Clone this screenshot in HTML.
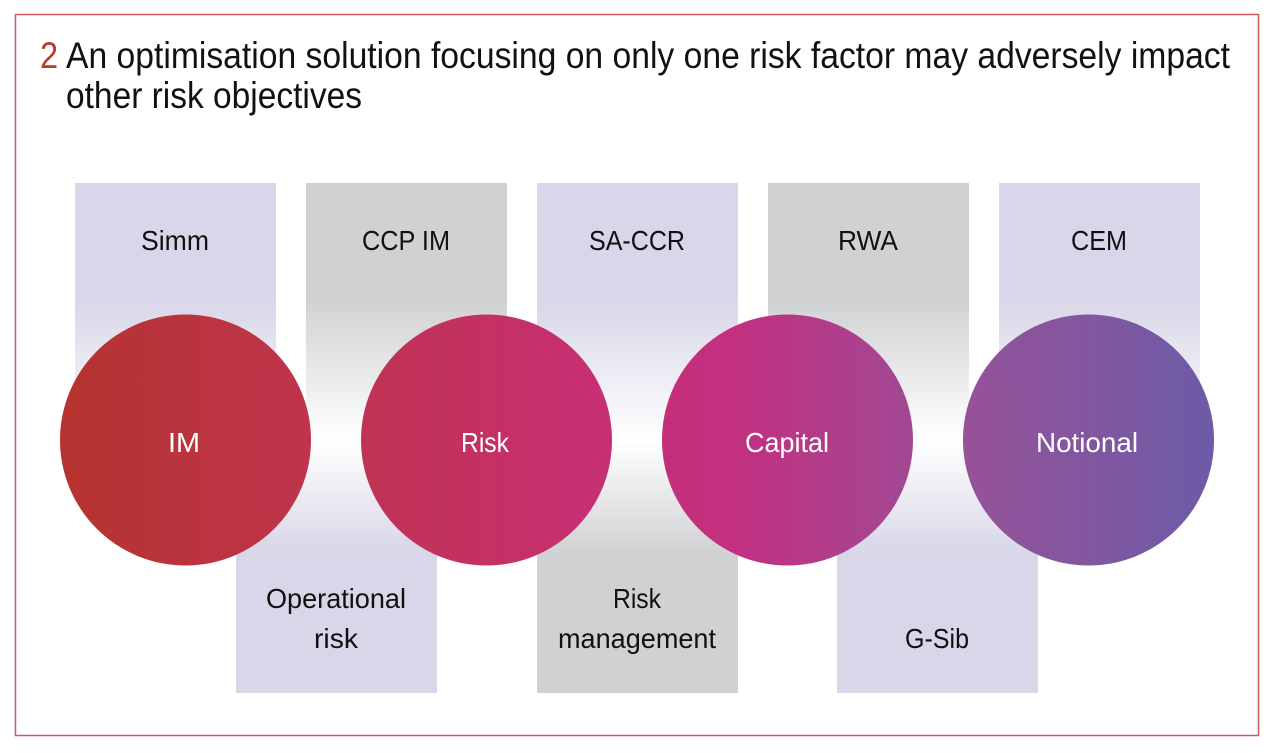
<!DOCTYPE html>
<html><head><meta charset="utf-8"><style>html,body{margin:0;padding:0;background:#fff}svg{display:block}</style></head>
<body>
<svg width="1282" height="753" viewBox="0 0 1282 753" xmlns="http://www.w3.org/2000/svg" font-family="'Liberation Sans', sans-serif">
<defs>
<linearGradient id="tl" x1="0" y1="0" x2="0" y2="1"><stop offset="0" stop-color="#d8d6e8"/><stop offset="0.45" stop-color="#d8d6e8"/><stop offset="1" stop-color="#fff"/></linearGradient>
<linearGradient id="tg" x1="0" y1="0" x2="0" y2="1"><stop offset="0" stop-color="#d0d1d3"/><stop offset="0.45" stop-color="#d0d1d3"/><stop offset="1" stop-color="#fff"/></linearGradient>
<linearGradient id="bl" x1="0" y1="0" x2="0" y2="1"><stop offset="0" stop-color="#fff"/><stop offset="0.45" stop-color="#d8d6e8"/><stop offset="1" stop-color="#d8d6e8"/></linearGradient>
<linearGradient id="bg" x1="0" y1="0" x2="0" y2="1"><stop offset="0" stop-color="#fff"/><stop offset="0.45" stop-color="#d0d1d3"/><stop offset="1" stop-color="#d0d1d3"/></linearGradient>
<linearGradient id="c" gradientUnits="userSpaceOnUse" x1="60" y1="0" x2="1214" y2="0">
<stop offset="0" stop-color="#b5332f"/><stop offset="0.22" stop-color="#bf344d"/><stop offset="0.45" stop-color="#c62f70"/><stop offset="0.58" stop-color="#c42f80"/><stop offset="0.8" stop-color="#93539a"/><stop offset="1" stop-color="#6c5ba6"/></linearGradient>
</defs>
<rect x="15.5" y="14.5" width="1243" height="721" fill="none" stroke="#d05a5a" stroke-width="1.5"/>
<text x="40" y="68" font-size="37" fill="#c0392b" transform="translate(40 0) scale(0.88 1) translate(-40 0)">2</text>
<text x="66" y="68" font-size="37" fill="#111" textLength="1164" lengthAdjust="spacingAndGlyphs">An optimisation solution focusing on only one risk factor may adversely impact</text>
<text x="66" y="108" font-size="37" fill="#111" textLength="296" lengthAdjust="spacingAndGlyphs">other risk objectives</text>
<rect x="75" y="183" width="201" height="257" fill="url(#tl)"/>
<rect x="306" y="183" width="201" height="257" fill="url(#tg)"/>
<rect x="537" y="183" width="201" height="257" fill="url(#tl)"/>
<rect x="768" y="183" width="201" height="257" fill="url(#tg)"/>
<rect x="999" y="183" width="201" height="257" fill="url(#tl)"/>
<rect x="236" y="440" width="201" height="253" fill="url(#bl)"/>
<rect x="537" y="440" width="201" height="253" fill="url(#bg)"/>
<rect x="837" y="440" width="201" height="253" fill="url(#bl)"/>
<g font-size="28" fill="#111" text-anchor="middle">
<text x="175" y="250" textLength="68" lengthAdjust="spacingAndGlyphs">Simm</text>
<text x="406" y="250" textLength="88" lengthAdjust="spacingAndGlyphs">CCP IM</text>
<text x="637" y="250" textLength="96" lengthAdjust="spacingAndGlyphs">SA-CCR</text>
<text x="868" y="250" textLength="60" lengthAdjust="spacingAndGlyphs">RWA</text>
<text x="1099" y="250" textLength="56" lengthAdjust="spacingAndGlyphs">CEM</text>
<text x="336" y="608" textLength="140" lengthAdjust="spacingAndGlyphs">Operational</text>
<text x="336" y="648" textLength="44" lengthAdjust="spacingAndGlyphs">risk</text>
<text x="637" y="608" textLength="48" lengthAdjust="spacingAndGlyphs">Risk</text>
<text x="637" y="648" textLength="158" lengthAdjust="spacingAndGlyphs">management</text>
<text x="937" y="648" textLength="64" lengthAdjust="spacingAndGlyphs">G-Sib</text>
</g>
<g fill="url(#c)">
<circle cx="185.5" cy="440" r="125.5"/>
<circle cx="486.5" cy="440" r="125.5"/>
<circle cx="787.5" cy="440" r="125.5"/>
<circle cx="1088.5" cy="440" r="125.5"/>
</g>
<g font-size="28" fill="#fff" text-anchor="middle">
<text x="184" y="452" textLength="32" lengthAdjust="spacingAndGlyphs">IM</text>
<text x="485" y="452" textLength="48" lengthAdjust="spacingAndGlyphs">Risk</text>
<text x="787" y="452" textLength="84" lengthAdjust="spacingAndGlyphs">Capital</text>
<text x="1087" y="452" textLength="102" lengthAdjust="spacingAndGlyphs">Notional</text>
</g>
</svg>
</body></html>
